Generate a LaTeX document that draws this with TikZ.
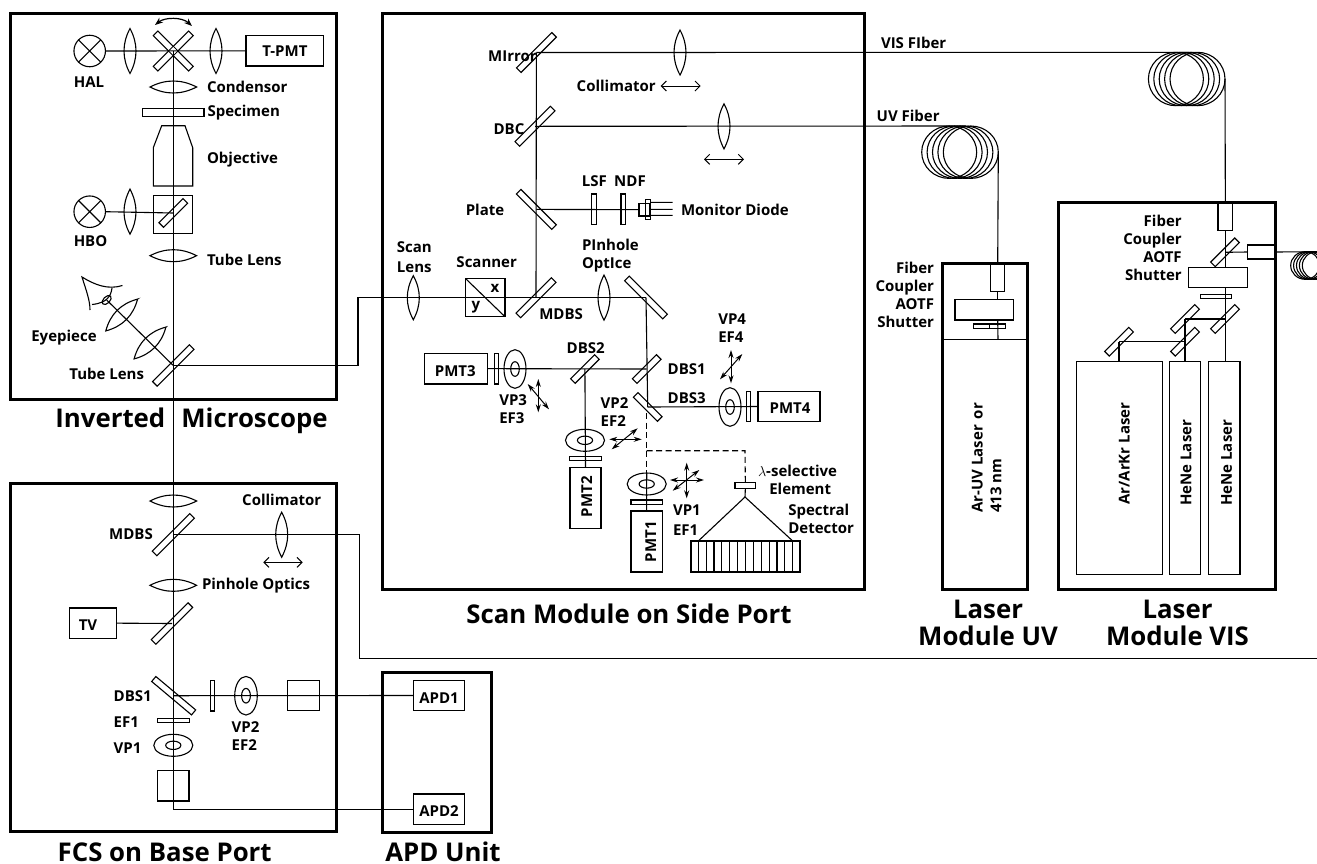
\documentclass[tikz,border=0pt]{standalone}
\usepackage{fontspec}
\setmainfont{Open Sans}
\usetikzlibrary{arrows.meta,shapes.geometric}
\tikzset{
  frame/.style={draw,line width=3pt,inner sep=0pt,outer sep=0pt},
  comp/.style={draw,line width=1.1pt,inner sep=0pt,outer sep=0pt},
  beam/.style={line width=1.1pt},
  dashbeam/.style={line width=1.1pt,dash pattern=on 6pt off 3.5pt},
  lab/.style={font=\fontsize{15}{18}\selectfont\bfseries,inner sep=0pt,outer sep=0pt,align=left},
  lasertext/.style={font=\fontsize{15}{18.5}\selectfont\bfseries,inner sep=0pt,outer sep=0pt,rotate=90},
  title/.style={font=\fontsize{25.8}{27}\selectfont\bfseries,inner sep=0pt,outer sep=0pt},
  mirrorbox/.style={comp,minimum height=6.5pt},
  ringshape/.style={comp,ellipse},
  fourtip/.style={line width=1pt,{Stealth[length=8pt,width=5pt]}-{Stealth[length=8pt,width=5pt]}},
  movetip/.style={line width=1pt,{Straight Barb[length=5pt,width=10pt]}-{Straight Barb[length=5pt,width=10pt]}}
}
\newcommand{\compbox}[7][comp]{%
  \pgfmathsetmacro\cbx{(#3+#5)/2}\pgfmathsetmacro\cby{(#4+#6)/2}%
  \pgfmathsetmacro\cbw{abs(#5-#3)}\pgfmathsetmacro\cbh{abs(#6-#4)}%
  \node[#1,minimum width=\cbw pt,minimum height=\cbh pt] (#2) at (\cbx,\cby) {#7};}
\newcommand{\cmirror}[5]{\node[mirrorbox,rotate=#4,minimum width=#5pt] (#1) at (#2,#3) {};}
\newcommand{\clens}[6]{%
  \coordinate (#1) at (#2,#3);
  \pgfmathsetmacro\lw{#6*4/3}\pgfmathsetmacro\lh{#5/3}%
  \draw[line width=1.1pt,shift={(#1)},rotate=#4,line join=miter]
    (0,-#5) .. controls (\lw,-\lh) and (\lw,\lh) .. (0,#5)
            .. controls (-\lw,\lh) and (-\lw,-\lh) .. cycle;}
\newcommand{\cring}[5]{%
  \pgfmathsetmacro\rw{#4*2}\pgfmathsetmacro\rh{#5*2}%
  \pgfmathsetmacro\riw{#4*.78}\pgfmathsetmacro\rih{#5*.76}%
  \node[ringshape,minimum width=\rw pt,minimum height=\rh pt] (#1) at (#2,#3) {};
  \node[ringshape,minimum width=\riw pt,minimum height=\rih pt] (#1i) at (#2,#3) {};}
\newcommand{\ccoil}[6]{%
  \pgfmathsetmacro\cw{#4*2}\pgfmathsetmacro\ch{#5*2}%
  \foreach \i in {1,...,5}{%
    \pgfmathsetmacro\ccx{#2+(\i-3)*#6}%
    \node[ringshape,minimum width=\cw pt,minimum height=\ch pt] (#1\i) at (\ccx,#3) {};}}
\newcommand{\carrow}[6]{%
  \coordinate (#2a) at (#3,#4); \coordinate (#2b) at (#5,#6);
  \draw[#1] (#2a) -- (#2b);}
\newcommand{\lampc}[3]{%
  \node[comp,circle,minimum size=31.5pt] (#1) at (#2,#3) {};
  \draw[line width=1.1pt] (#1.45) -- (#1.225) (#1.135) -- (#1.315);}
\begin{document}
\begin{tikzpicture}[x=1pt,y=-1pt]
\clip (0,0) rectangle (1317,863);
% ---------- frames
\compbox[frame]{micro}{10}{13.5}{336.5}{399.5}{}
\compbox[frame]{fcs}{10}{483.3}{336.7}{831.7}{}
\compbox[frame]{scan}{382.7}{13.5}{864}{589.3}{}
\compbox[frame]{apdunit}{382.7}{672.5}{491.7}{832}{}
\compbox[frame]{uvmod}{942.3}{263.3}{1027.3}{589.3}{}
\compbox[frame]{vismod}{1058.3}{202.3}{1275.7}{589.3}{}
% ---------- microscope
\lampc{hal}{89.7}{51}
\lampc{hbo}{89.7}{211.7}
\clens{halL}{130}{51}{0}{22.5}{6}
\clens{tpmtL}{216}{51}{0}{22.5}{6}
\clens{hboL}{130}{211.7}{0}{22.5}{6}
\cmirror{xa}{173.3}{51}{45}{50}
\cmirror{xb}{173.3}{51}{-45}{50}
\node[fill=white,rotate=45,minimum size=5.5pt,inner sep=0pt] (xc) at (173.3,51) {};
\compbox{tpmt}{246}{35.7}{323.7}{66}{\fontsize{15}{18}\selectfont\bfseries T-PMT}
\clens{cond}{173.3}{87}{90}{23.3}{6}
\compbox{spec}{142.3}{108.7}{204}{116.7}{}
\draw[line width=1.1pt] (161.7,125.7) coordinate (obja) -- (185,125.7) -- (192.7,147.7) -- (192.7,186) -- (153.3,186) -- (153.3,147.7) -- cycle;
\compbox{cube}{153.3}{195.3}{192.7}{233.3}{}
\cmirror{cubem}{173.3}{213}{45}{34}
\clens{tubeL}{173.3}{255.7}{90}{23.3}{6}
\cmirror{tubem}{173.3}{365.5}{45}{52}
\clens{eyeA}{150}{343}{-45}{22.5}{6.5}
\clens{eyeB}{121.7}{315}{-45}{22.5}{6.5}
\node[comp,ellipse,rotate=45,minimum width=11pt,minimum height=6.5pt] (eyeball) at (106.7,300) {};
\draw[line width=1.1pt] (122.5,285.5) .. controls (108,290) and (95,285) .. (82,277) .. controls (86,290) and (90,300) .. (90,310);
\draw[line width=1.1pt] (112,288) .. controls (111,296) and (107,303) .. (92,304.5);
% ---------- FCS
\clens{fcsA}{173.3}{501}{90}{23.3}{6}
\cmirror{fcsmdbs}{173.3}{534.7}{45}{53}
\clens{fcsC}{281.7}{534.7}{0}{22.5}{6}
\carrow{movetip}{fcsCa}{263.3}{562.3}{302.7}{562.3}
\clens{fcsP}{173.3}{585.3}{90}{23.3}{6}
\compbox{tv}{69.3}{608}{116.7}{638.3}{}
\cmirror{tvm}{172}{623.5}{45}{52}
\cmirror{fcsdbs}{173.7}{695.7}{-40}{52}
\compbox{fcsf2}{210.7}{680.3}{214.7}{711}{}
\cring{fcsvp2}{246}{695.7}{11.3}{19.3}
\compbox{fcsb2}{287.7}{680.3}{319.3}{710.7}{}
\compbox{fcsf1}{157.7}{718.3}{189.3}{722.7}{}
\cring{fcsvp1}{173.3}{745.3}{19.5}{11}
\compbox{fcsb1}{157.7}{770.3}{189}{801}{}
\compbox{apd1}{413.3}{680.3}{464.3}{710.7}{}
\compbox{apd2}{413.3}{794}{464.3}{824.3}{}
% ---------- scan module
\cmirror{mirr}{536.4}{52.5}{45}{50}
\cmirror{dbc}{535}{126.3}{45}{50}
\cmirror{plate}{536.3}{209.4}{-45}{50}
\cmirror{mdbs}{536}{297.7}{45}{50}
\clens{visL}{680}{52.5}{0}{22.5}{6}
\clens{uvL}{724}{126.3}{0}{22.5}{6}
\carrow{movetip}{visLa}{660.7}{86}{700.7}{86}
\carrow{movetip}{uvLa}{704}{159.3}{744}{159.3}
\compbox{lsf}{591.7}{194}{596.3}{224.3}{}
\compbox{ndf}{621}{194}{625.6}{224.3}{}
\compbox{diodea}{639}{203.3}{650}{216}{}
\compbox{diodeb}{645.7}{199.3}{650.7}{219.3}{}
\coordinate (pina) at (672.7,202.3); \coordinate (pinc) at (672.7,215.3); \coordinate (pinb) at (672.7,209.4);
\coordinate (pinas) at (650.7,202.3); \coordinate (pincs) at (650.7,215.3);
\clens{scanL}{413.3}{297.7}{0}{22}{6}
\compbox{scanner}{465.7}{278.7}{505}{316.7}{}
\clens{pinL}{604}{297.7}{0}{22.5}{6}
\cmirror{pinm}{646}{297.5}{-45}{54}
\cmirror{dbs1}{646.7}{369}{45}{34}
\cmirror{dbs2}{584.9}{369}{45}{34}
\cmirror{dbs3}{647.7}{407}{-45}{34}
\compbox{pmt3}{424.7}{353.3}{487.3}{384}{}
\compbox{f3}{494.3}{353.3}{498.7}{384}{}
\cring{vp3}{515}{369}{11}{19.3}
\compbox{pmt4}{758}{391.3}{820}{421.7}{}
\compbox{f4}{746.7}{391.3}{750.7}{421.7}{}
\cring{vp4}{730}{407}{11}{19.3}
\compbox{pmt2}{570}{467.3}{601}{528.3}{}
\compbox{f2}{569.3}{456.3}{601.3}{460.7}{}
\cring{vp2}{585}{440.3}{19.5}{11}
\compbox{pmt1}{631}{511}{662.3}{572}{}
\compbox{f1}{631}{500}{662.3}{504.3}{}
\cring{vp1}{646.7}{484}{19.5}{11}
\compbox{lam}{735}{482.7}{755.7}{488.7}{}
\coordinate (apex) at (745,497);
\coordinate (detL) at (698.3,541); \coordinate (detR) at (792.7,541);
\compbox{spd}{691}{541}{800}{572}{}
\foreach \k in {0,...,12}{\pgfmathsetmacro\tx{698.3+7.87*\k}\draw[line width=1.1pt] (\tx,541) -- (\tx,572);}
% four-way arrows
\carrow{fourtip}{a4v}{731}{350}{731}{383.3}
\carrow{fourtip}{a4d}{720}{379.3}{742.3}{354}
\carrow{fourtip}{a3v}{538.3}{379}{538.3}{412.3}
\carrow{fourtip}{a3d}{527.7}{384}{549}{409.3}
\carrow{fourtip}{a2h}{609.3}{439.3}{641.7}{439.3}
\carrow{fourtip}{a2d}{611.7}{449.3}{637.7}{428.3}
\carrow{fourtip}{a1h}{670}{480}{704}{480}
\carrow{fourtip}{a1v}{686.7}{462.7}{686.7}{498.3}
\carrow{fourtip}{a1d}{672.7}{490.7}{699.3}{470}
% ---------- coils
\ccoil{uvc}{960}{152.2}{27.5}{26.2}{5.4}
\ccoil{visc}{1186.7}{79}{27.5}{26.7}{5.4}
\ccoil{smc}{1311}{265.5}{14.5}{13.8}{2.9}
% ---------- laser UV
\compbox{uvcoup}{990.7}{263.3}{1004.7}{291.3}{}
\compbox{uvaotf}{955}{299.3}{1013.7}{320}{}
\compbox{uvf}{973.3}{324}{1005.3}{328.3}{}
\coordinate (uvsepl) at (942.3,339.3); \coordinate (uvsepr) at (1027.3,339.3); \coordinate (uvsepm) at (998,339.3);
\draw[beam] (989.3,324) -- (989.3,328.3);
% ---------- laser VIS
\compbox{viscoup}{1218}{202.3}{1232.7}{230.7}{}
\cmirror{vism}{1225}{252.3}{45}{34}
\compbox{visport}{1247.3}{245}{1275}{259}{}
\compbox{visaotf}{1188.3}{267.3}{1247.3}{287.7}{}
\compbox{visf}{1200.3}{294.3}{1231.7}{298.7}{}
\cmirror{m1}{1225}{319}{45}{34}
\cmirror{m2}{1185}{319}{45}{34}
\cmirror{m3}{1185}{341.7}{45}{34}
\cmirror{m4}{1119}{341.7}{45}{34}
\compbox{arlaser}{1076.7}{361.7}{1162.3}{574.3}{}
\compbox{hene1}{1169.3}{361.7}{1200.7}{574.3}{}
\compbox{hene2}{1208.7}{361.7}{1240}{574.3}{}
% ---------- connectors
\draw[beam] (hal.east) -- (tpmt.west);
\draw[beam] (hbo.east) -- (cubem.center);
\draw[beam] (tubem.center) -- (eyeball.center);
\draw[beam] (xa.center) |- (apd2.west);
\coordinate (kneea) at (358,365.5); \coordinate (kneeb) at (358,297.5);
\draw[beam] (tubem.center) -- (kneea) -- (kneeb) -- (pinm.center);
\draw[beam] (pinm.center) -- (dbs3.center);
\coordinate (dashstart) at (646.7,413); \coordinate (dashend) at (646.7,473);
\coordinate (dashturn) at (646.7,450.7); \coordinate (dashcorner) at (745,450.7);
\draw[dashbeam] (dashstart) -- (dashend);
\draw[dashbeam] (dashturn) -- (dashcorner) -- (lam.north);
\draw[beam] (dashend) -- (pmt1.north);
\draw[beam] (lam.south) -- (apex);
\draw[beam] (apex) -- (detL) (apex) -- (detR);
\draw[beam] (dbs1.center) -- (pmt3.east);
\draw[beam] (dbs2.center) -- (pmt2.north);
\draw[beam] (dbs3.center) -- (pmt4.west);
\draw[beam] (mirr.center) -- (mdbs.center);
\draw[beam] (mirr.center) -- (visc4.north);
\draw[beam] (dbc.center) -- (uvc4.north);
\draw[beam] (plate.center) -- (diodea.west);
\draw[beam] (pinas) -- (pina) (pincs) -- (pinc) (diodeb.east) -- (pinb);
\draw[beam] (scanner.north west) -- (scanner.south east);
\draw[beam] (uvc5.east) -- (uvcoup.north);
\draw[beam] (uvcoup.south) -- (uvaotf.north -| uvcoup.south);
\draw[beam] (uvaotf.south -| uvcoup.south) -- (uvsepm);
\draw[line width=1.1pt] (uvsepl) -- (uvsepr);
\draw[beam] (visc5.east) -- (viscoup.north);
\draw[beam] (viscoup.south) -- (visaotf.north -| viscoup.south);
\draw[beam] (visaotf.south -| viscoup.south) -- (hene2.north -| viscoup.south);
\draw[beam] (vism.center) -- (visport.west);
\draw[beam] (visport.east) -- (smc5.north);
\draw[beam] (m1.center) -- (m2.center);
\draw[beam] (m2.center) -- (hene1.north);
\draw[beam] (m3.center) -- (m4.center);
\draw[beam] (m4.center) -- (m4.center |- arlaser.north);
\draw[beam] (fcsmdbs.center) -- (359.7,534.7) coordinate (knee1) -- (359.7,658.3) coordinate (knee2) -- (1320,658.3) coordinate (outr);
\draw[beam] (tv.east) -- (tvm.center);
\draw[beam] (fcsdbs.center) -- (apd1.west);
% arc arrow
\coordinate (arcA) at (155,25); \coordinate (arcB) at (192,26);
\draw[line width=1.2pt,{Stealth[length=8pt,width=6pt]}-{Stealth[length=8pt,width=6pt]}] (arcA) .. controls (165,17) and (182,17) .. (arcB);
% ---------- labels
\node[lab] (thal) at (89,81.7) {HAL};
\node[lab] (thbo) at (90.5,241) {HBO};
\node[lab,anchor=west] (tcond) at (207,87) {Condensor};
\node[lab,anchor=west] (tspec) at (207.5,113) {Specimen};
\node[lab,anchor=west] (tobj) at (207,160) {Objective};
\node[lab,anchor=west] (ttube) at (207,259.5) {Tube Lens};
\node[lab] (teye) at (64,338) {Eyepiece};
\node[lab] (ttub2) at (106.7,374.3) {Tube Lens};
\node[lab] (tcol2) at (281.7,500) {Collimator};
\node[lab] (tmd2) at (131,533.7) {MDBS};
\node[lab,anchor=west] (tpho) at (202,585.7) {Pinhole Optics};
\node[lab] (ttvb) at (88,625) {TV};
\node[lab,anchor=west] (td1) at (113.7,695.7) {DBS1};
\node[lab,anchor=west] (te1) at (113.7,721.7) {EF1};
\node[lab,anchor=west] (tv1) at (113.7,747.7) {VP1};
\node[lab,anchor=west] (tv2) at (231.7,736.5) {VP2\\EF2};
\node[lab] (tapd1) at (439,698.3) {APD1};
\node[lab] (tapd2) at (439,811) {APD2};
\node[lab] (tmir) at (512.5,56) {MIrror};
\node[lab] (tdbc) at (509,129) {DBC};
\node[lab] (tplate) at (485,209.7) {Plate};
\node[lab,anchor=west] (tcol) at (576.7,86) {Collimator};
\node[lab] (tlsf) at (594.3,181) {LSF};
\node[lab] (tndf) at (630,181) {NDF};
\node[lab,anchor=west] (tdio) at (681,209.5) {Monitor Diode};
\node[lab,align=center] (tsl) at (414.3,257) {Scan\\[2pt]Lens};
\node[lab] (tscn) at (486.7,262.3) {Scanner};
\node[lab,anchor=west] (tpo) at (582,255.7) {PInhole\\OptIce};
\node[lab,anchor=west] (tmdb) at (539.3,314.3) {MDBS};
\node[lab,anchor=west] (tvp4) at (718.3,328.5) {VP4\\EF4};
\node[lab] (tdb2) at (585.7,348.3) {DBS2};
\node[lab,anchor=west] (tdb1) at (667.7,369) {DBS1};
\node[lab,anchor=west] (tdb3) at (667.7,398) {DBS3};
\node[lab] (tp3) at (455.3,371.3) {PMT3};
\node[lab] (tp4) at (790,408.3) {PMT4};
\node[lab,anchor=west] (tvp3) at (499.3,409.3) {VP3\\EF3};
\node[lab,anchor=west] (tvp2) at (600.7,412) {VP2\\EF2};
\node[lab,rotate=90] (tp2) at (586.7,496.7) {PMT2};
\node[lab,rotate=90] (tp1) at (650.7,541.7) {PMT1};
\node[lab,anchor=west] (tvp1) at (673,520.5) {VP1\\[2pt]EF1};
\node[lab,anchor=west] (tlam) at (758,471) {$\lambda$-selective};
\node[lab,anchor=west] (tele) at (769.3,489.3) {Element};
\node[lab,anchor=west] (tspd) at (788.3,519.3) {Spectral\\Detector};
\node[lab,anchor=west] (tvisf) at (881,42.7) {VIS FIber};
\node[lab,anchor=west] (tuvf) at (876.7,116) {UV Fiber};
\node[lab,anchor=east,align=right] (tuvc) at (934,295.3) {Fiber\\Coupler\\AOTF\\Shutter};
\node[lab,anchor=east,align=right] (tvisc) at (1181.7,247.5) {Fiber\\Coupler\\AOTF\\Shutter};
\node[lasertext,anchor=west] (tuv1) at (977.3,512.7) {Ar-UV Laser\hspace{6pt}or};
\node[lasertext,anchor=west] (tuv2) at (996,512.7) {413 nm};
\node[lasertext] (tar) at (1124.3,453.7) {Ar/ArKr Laser};
\node[lasertext] (th1) at (1186,462.8) {HeNe Laser};
\node[lasertext] (th2) at (1226.7,462.8) {HeNe Laser};
\node[title] (ttm) at (191.5,420.7) {Inverted\hspace{16pt}Microscope};
\node[title] (ttf) at (164.7,852.2) {FCS on Base Port};
\node[title] (tta) at (443,851.7) {APD Unit};
\node[title] (tts) at (629,614) {Scan Module on Side Port};
\node[title,align=center] (ttu) at (988,623) {Laser\\Module UV};
\node[title,align=center] (ttv) at (1177.5,623) {Laser\\Module VIS};
\node[font=\fontsize{15}{18}\selectfont\bfseries,inner sep=0pt] (tx) at (495,288) {x};
\node[font=\fontsize{15}{18}\selectfont\bfseries,inner sep=0pt] (ty) at (476,307) {y};
\end{tikzpicture}
\end{document}
